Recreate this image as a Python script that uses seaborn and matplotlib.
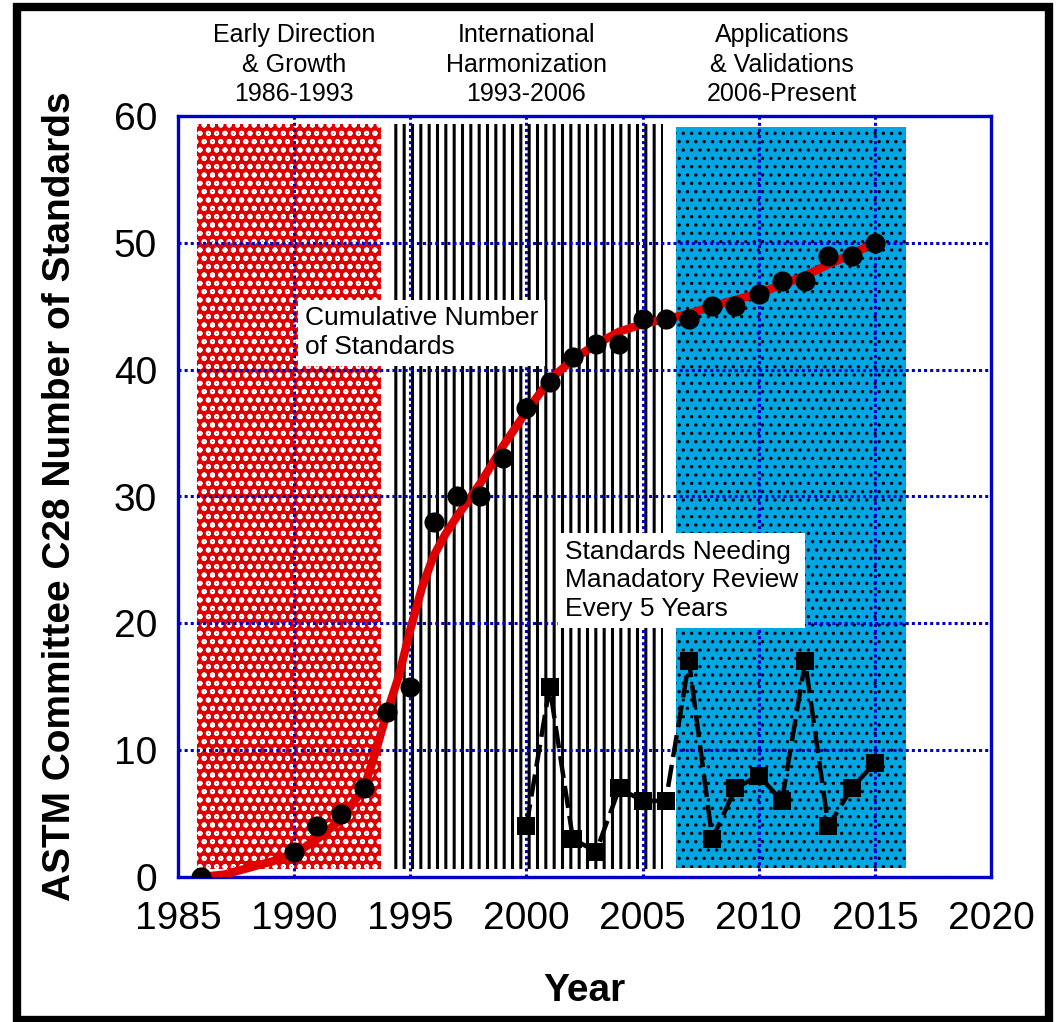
import matplotlib
matplotlib.use("Agg")
import matplotlib.pyplot as plt
from matplotlib.patches import Rectangle
import seaborn as sns
import pandas as pd

# cumulative number of standards (black dots)
anios_acum = [1986, 1990, 1991, 1992, 1993, 1994, 1995, 1996, 1997, 1998, 1999,
              2000, 2001, 2002, 2003, 2004, 2005, 2006, 2007, 2008, 2009, 2010,
              2011, 2012, 2013, 2014, 2015]
acumulado = [0, 2, 4, 5, 7, 13, 15, 28, 30, 30, 33,
             37, 39, 41, 42, 42, 44, 44, 44, 45, 45, 46,
             47, 47, 49, 49, 50]

# smooth trend curve (red)
anios_curva = [1986, 1987, 1988, 1989, 1990, 1991, 1992, 1993, 1993.5, 1994,
               1994.5, 1995, 1995.5, 1996, 1996.5, 1997, 1998, 1999, 2000, 2001,
               2002, 2003, 2004, 2005, 2006, 2007, 2008, 2009, 2010, 2011,
               2012, 2013, 2014, 2015]
curva = [0, 0.2, 0.7, 1.2, 1.8, 3.0, 4.5, 7.0, 9.8, 13.0,
         15.8, 19.5, 22.8, 25.3, 27.0, 28.4, 31.0, 34.0, 36.7, 39.2,
         40.8, 42.0, 43.0, 43.6, 44.0, 44.4, 45.0, 45.5, 46.0, 46.7,
         47.4, 48.3, 49.1, 50.0]

# standards needing mandatory review (black squares)
anios_rev = [2000, 2001, 2002, 2003, 2004, 2005, 2006, 2007, 2008, 2009,
             2010, 2011, 2012, 2013, 2014, 2015]
revision = [4, 15, 3, 2, 7, 6, 6, 17, 3, 7, 8, 6, 17, 4, 7, 9]

# eras
era_nombres = ["Early Direction\n& Growth\n1986-1993",
               "International\nHarmonization\n1993-2006",
               "Applications\n& Validations\n2006-Present"]
era_inicio = [1985.8, 1994.1, 2006.45]
era_fin = [1993.75, 2005.9, 2016.35]
era_abajo = [0.6, 0.6, 0.7]
era_arriba = [59.4, 59.4, 59.1]

AZUL = "#0000CC"

sns.set_theme(style="white")
plt.rcParams["font.family"] = ["Liberation Sans", "DejaVu Sans"]
plt.rcParams["text.color"] = "black"
plt.rcParams["axes.labelcolor"] = "black"

fig = plt.figure(figsize=(10.57, 10.22), dpi=100)
ax = fig.add_axes([178 / 1057, 145 / 1022, (991 - 178) / 1057, (877 - 116) / 1022])

# era backgrounds with patterns
estilos = [
    dict(facecolor="#E00000", edgecolor="white", hatch="oo", hlw=1.3),
    dict(facecolor="white", edgecolor="black", hatch="||", hlw=2.2),
    dict(facecolor="#00A6E2", edgecolor="black", hatch="..", hlw=1.2),
]
for ini, fin, ab, ar, est in zip(era_inicio, era_fin, era_abajo, era_arriba, estilos):
    plt.rcParams["hatch.linewidth"] = est["hlw"]
    poly = ax.fill_between([ini, fin], ab, ar, facecolor=est["facecolor"],
                           edgecolor=est["edgecolor"], hatch=est["hatch"],
                           linewidth=0, zorder=1)
    if hasattr(poly, "set_hatch_linewidth"):
        poly.set_hatch_linewidth(est["hlw"])

df_curva = pd.DataFrame({"anio": anios_curva, "valor": curva})
df_acum = pd.DataFrame({"anio": anios_acum, "valor": acumulado})
df_rev = pd.DataFrame({"anio": anios_rev, "valor": revision})

sns.lineplot(data=df_curva, x="anio", y="valor", ax=ax, color="#E00000",
             linewidth=6, solid_capstyle="round", solid_joinstyle="round", zorder=4)
sns.scatterplot(data=df_acum, x="anio", y="valor", ax=ax, color="black",
                marker="o", s=210, linewidth=0, zorder=5)
sns.lineplot(data=df_rev, x="anio", y="valor", ax=ax, color="black",
             linewidth=3.2, linestyle=(0, (5, 1.8)), marker="s",
             markersize=13, markeredgewidth=0, zorder=5)

ax.set_xlim(1985, 2020)
ax.set_ylim(0, 60)
ax.set_xticks(range(1985, 2021, 5))
ax.set_yticks(range(0, 61, 10))
ax.tick_params(axis="x", length=0, pad=17, labelsize=28, colors="black")
ax.tick_params(axis="y", length=0, pad=15, labelsize=28, colors="black")

ax.set_axisbelow(False)
ax.grid(True, color=AZUL, linestyle=(0, (1, 1)), linewidth=2.2)
for sp in ax.spines.values():
    sp.set_color(AZUL)
    sp.set_linewidth(2.4)
    sp.set_visible(True)

ax.set_xlabel("Year", fontsize=28, fontweight="bold", labelpad=26)
ax.set_ylabel("ASTM Committee C28 Number of Standards", fontsize=28,
              fontweight="bold", labelpad=26)

# era headers above the plot
for nombre, xc in zip(era_nombres, [1990, 2000, 2011]):
    ax.annotate(nombre, xy=(xc, 1), xycoords=("data", "axes fraction"),
                xytext=(0, 7), textcoords="offset points", ha="center",
                va="bottom", fontsize=18, linespacing=1.3, annotation_clip=False)

caja = dict(boxstyle="square,pad=0.25", facecolor="white", edgecolor="none")
ax.text(1990.45, 45.0, "Cumulative Number\nof Standards", ha="left", va="top",
        fontsize=19, linespacing=1.25, bbox=caja, zorder=6)
ax.text(2001.65, 26.6, "Standards Needing\nManadatory Review\nEvery 5 Years",
        ha="left", va="top", fontsize=19, linespacing=1.25, bbox=caja, zorder=6)

# thick black frame around the whole figure
fig.patches.append(Rectangle((17 / 1057, 2 / 1022), (1049 - 17) / 1057, 1013 / 1022,
                             transform=fig.transFigure, fill=False,
                             edgecolor="black", linewidth=6))

fig.savefig("out.png", dpi=100)
